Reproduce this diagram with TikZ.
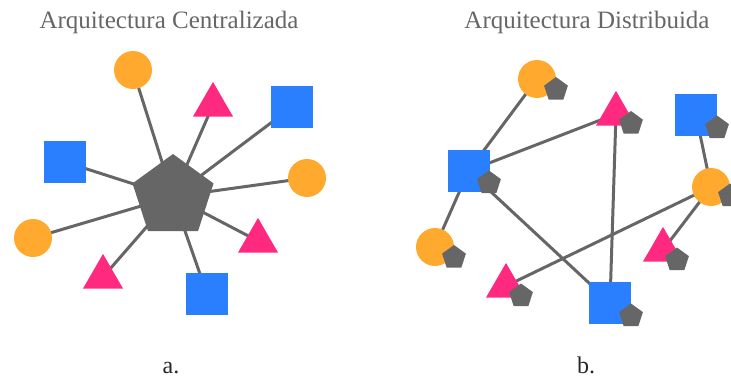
\documentclass[tikz,border=0pt]{standalone}
\usepackage{fontspec}
\setmainfont{Liberation Serif}
\usetikzlibrary{shapes.geometric,backgrounds}

\definecolor{hubgray}{HTML}{666666}
\definecolor{dotorange}{HTML}{FFA92E}
\definecolor{tripink}{HTML}{FF2A7F}
\definecolor{sqblue}{HTML}{2A7FFF}
\definecolor{titlegray}{HTML}{666666}

\tikzset{
  every node/.style={inner sep=0pt, outer sep=0pt},
  dot/.style={circle, fill=dotorange, minimum size=38pt},
  tri/.style={regular polygon, regular polygon sides=3, fill=tripink, minimum size=46.2pt},
  sq/.style={rectangle, fill=sqblue, minimum size=42pt},
  hub/.style={regular polygon, regular polygon sides=5, fill=hubgray, minimum size=85.2pt},
  minihub/.style={regular polygon, regular polygon sides=5, fill=hubgray, minimum size=25pt},
  link/.style={draw=hubgray, line width=3pt},
  title/.style={anchor=base, text=titlegray, font=\fontsize{25}{30}\selectfont},
  caption/.style={anchor=base, text=black!85, font=\fontsize{24}{28}\selectfont}
}

\begin{document}
\begin{tikzpicture}[x=1pt, y=-1pt]
\useasboundingbox (0,0) rectangle (731,378);

% ---------- centralised layout ----------
\node[title] (ttlA) at (169,28) {Arquitectura Centralizada};
\node[hub] (hub) at (173,196.6) {};
\node[dot] (ac1) at (133,70) {};
\node[tri] (at1) at (213,105) {};
\node[sq]  (as1) at (292,107) {};
\node[dot] (ac2) at (307,178) {};
\node[tri] (at2) at (258,241) {};
\node[sq]  (as2) at (207,294) {};
\node[tri] (at3) at (103,277) {};
\node[dot] (ac3) at (33,238) {};
\node[sq]  (as3) at (65,162) {};
\begin{pgfonlayer}{background}
  \foreach \n in {ac1,at1,as1,ac2,at2,as2,at3,ac3,as3}
    \draw[link] (hub.center) -- (\n.center);
\end{pgfonlayer}
\node[caption] (capA) at (171,373) {a.};

% ---------- distributed layout ----------
\node[title] (ttlB) at (587,28) {Arquitectura Distribuida};
\node[dot] (bc1) at (537,79) {};
\node[minihub] (bh1) at (556,89.5) {};
\node[tri] (bt1) at (616,114) {};
\node[minihub] (bh2) at (631,123.5) {};
\node[sq]  (bs1) at (696,115) {};
\node[minihub] (bh3) at (717,128) {};
\node[sq]  (bs2) at (468.5,171) {};
\node[minihub] (bh4) at (489,183) {};
\node[dot] (bc2) at (711,187) {};
\node[minihub] (bh5) at (730,196) {};
\node[dot] (bc3) at (435,247) {};
\node[minihub] (bh6) at (454,257.5) {};
\node[tri] (bt2) at (506,286) {};
\node[minihub] (bh7) at (521,296) {};
\node[tri] (bt3) at (663,250) {};
\node[minihub] (bh8) at (677,260) {};
\node[sq]  (bs3) at (610,302.5) {};
\node[minihub] (bh9) at (631,316) {};
\begin{pgfonlayer}{background}
  \draw[link] (bc1.center) -- (bs2.center);
  \draw[link] (bs2.center) -- (bt1.center);
  \draw[link] (bs2.center) -- (bc3.center);
  \draw[link] (bs2.center) -- (bs3.center);
  \draw[link] (bt1.center) -- (bs3.center);
  \draw[link] (bs1.center) -- (bc2.center);
  \draw[link] (bc2.center) -- (bt2.center);
  \draw[link] (bc2.center) -- (bt3.center);
\end{pgfonlayer}
\node[caption] (capB) at (586,373) {b.};
\end{tikzpicture}
\end{document}
